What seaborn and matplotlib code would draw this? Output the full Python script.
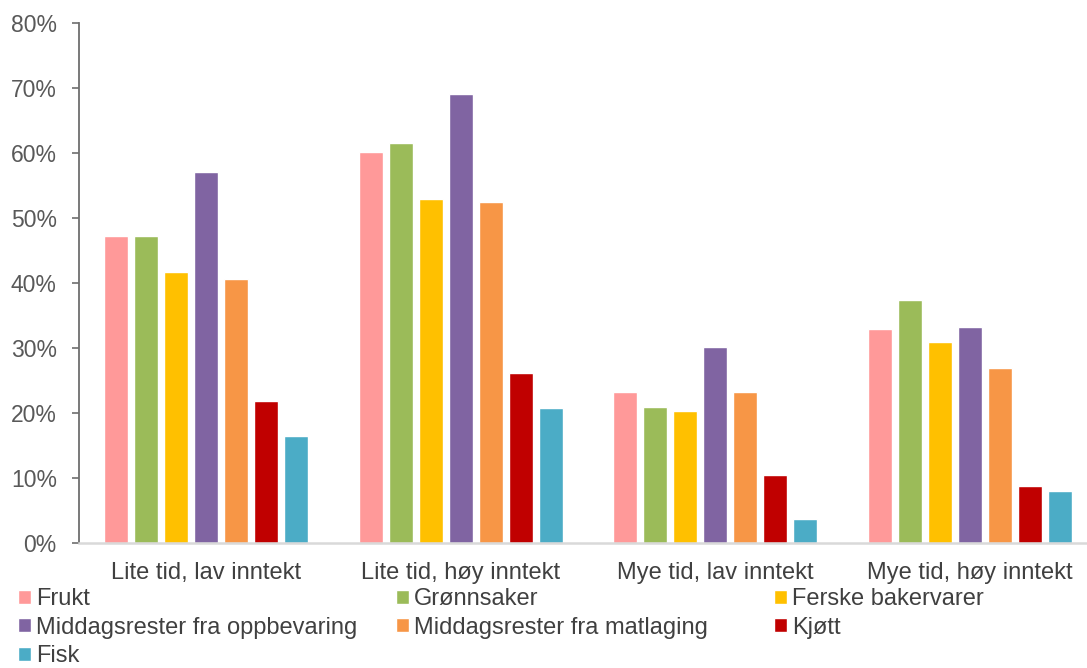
import numpy as np
import pandas as pd
import matplotlib
matplotlib.use("Agg")
import matplotlib.pyplot as plt
import seaborn as sns
from matplotlib.ticker import FuncFormatter

categories = ["Lite tid, lav inntekt", "Lite tid, høy inntekt", "Mye tid, lav inntekt", "Mye tid, høy inntekt"]
series = ["Frukt", "Grønnsaker", "Ferske bakervarer", "Middagsrester fra oppbevaring",
          "Middagsrester fra matlaging", "Kjøtt", "Fisk"]
frukt = [47.2, 60.1, 23.3, 32.9]
gronnsaker = [47.2, 61.6, 21.0, 37.4]
ferske = [41.7, 53.0, 20.3, 31.0]
middag_oppb = [57.1, 69.1, 30.1, 33.2]
middag_mat = [40.6, 52.4, 23.3, 27.0]
kjott = [21.9, 26.1, 10.5, 8.7]
fisk = [16.5, 20.7, 3.7, 8.0]
colors = ["#FF9999", "#9BBB59", "#FFC000", "#8064A2", "#F79646", "#C00000", "#4BACC6"]

values = [frukt, gronnsaker, ferske, middag_oppb, middag_mat, kjott, fisk]
rows = []
for s, vals in zip(series, values):
    for c, v in zip(categories, vals):
        rows.append({"Kategori": c, "Serie": s, "Verdi": v})
df = pd.DataFrame(rows)

sns.set_style("white")
plt.rcParams['font.family'] = ['Liberation Sans', 'DejaVu Sans']

fig = plt.figure(figsize=(10.87, 6.68), dpi=100)
ax = fig.add_axes([79/1087, 1 - 543/668, (1097 - 79)/1087, (543 - 23)/668])

sns.barplot(data=df, x="Kategori", y="Verdi", hue="Serie", hue_order=series,
            order=categories, palette=colors, width=0.825, gap=0.2, saturation=1,
            ax=ax, legend=True)

ax.set_ylim(0, 80)
ax.set_xlim(-0.5, 3.5)
ax.set_yticks(np.arange(0, 81, 10))
ax.yaxis.set_major_formatter(FuncFormatter(lambda v, p: f"{int(v)}%"))
ax.set_xlabel("")
ax.set_ylabel("")

for sp in ["top", "right"]:
    ax.spines[sp].set_visible(False)
ax.spines["left"].set_color("#6e6e6e")
ax.spines["left"].set_linewidth(1.3)
ax.spines["bottom"].set_color("#d9d9d9")
ax.spines["bottom"].set_linewidth(1.8)

ax.tick_params(axis="y", which="major", length=5, width=1.2, color="#6e6e6e",
               labelsize=16.5, labelcolor="#595959", pad=11, left=True, direction="out")
ax.tick_params(axis="x", length=0, labelsize=17, labelcolor="#404040", pad=14)

handles, labels = ax.get_legend_handles_labels()
ax.get_legend().remove()

cols = [[0, 3, 6], [1, 4], [2, 5]]
xs = [18/1087, 396/1087, 774/1087]
for col, x in zip(cols, xs):
    leg = fig.legend([handles[i] for i in col], [labels[i] for i in col],
                     loc="upper left", bbox_to_anchor=(x, 1 - 588/668),
                     frameon=False, fontsize=17, handlelength=0.55, handleheight=0.55,
                     handletextpad=0.2, labelspacing=0.28, borderaxespad=0, borderpad=0)
    for t in leg.get_texts():
        t.set_color("#404040")

fig.savefig("out.png", dpi=100)
